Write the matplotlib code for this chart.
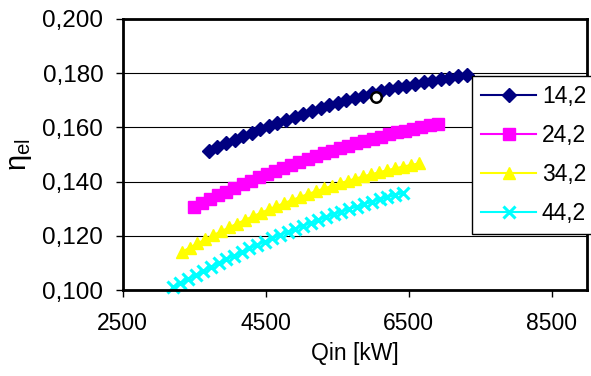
import matplotlib
matplotlib.use("Agg")
import matplotlib.pyplot as plt
from matplotlib.ticker import FuncFormatter

plt.rcParams['font.family'] = ['Liberation Sans', 'DejaVu Sans']
plt.rcParams['mathtext.fontset'] = 'custom'
plt.rcParams['mathtext.rm'] = 'Liberation Sans'

# Qin [kW] and eta_el for each series
q_142 = [3703, 3823, 3944, 4064, 4184, 4304, 4425, 4545, 4665, 4785, 4906,
         5026, 5146, 5267, 5387, 5507, 5627, 5748, 5868, 5988, 6108, 6229,
         6349, 6469, 6589, 6710, 6830, 6950, 7070, 7191, 7311]
eta_142 = [0.15130, 0.15272, 0.15410, 0.15545, 0.15677, 0.15806, 0.15931,
           0.16052, 0.16171, 0.16286, 0.16398, 0.16506, 0.16611, 0.16713,
           0.16811, 0.16906, 0.16998, 0.17086, 0.17171, 0.17253, 0.17331,
           0.17406, 0.17478, 0.17546, 0.17611, 0.17672, 0.17730, 0.17785,
           0.17837, 0.17885, 0.17930]

q_242 = [3493, 3607, 3721, 3834, 3948, 4062, 4176, 4290, 4403, 4517, 4631,
         4745, 4858, 4972, 5086, 5200, 5313, 5427, 5541, 5655, 5768, 5882,
         5996, 6110, 6224, 6337, 6451, 6565, 6679, 6792, 6906]
eta_242 = [0.13060, 0.13207, 0.13352, 0.13493, 0.13631, 0.13766, 0.13898,
           0.14027, 0.14152, 0.14275, 0.14394, 0.14511, 0.14624, 0.14734,
           0.14841, 0.14945, 0.15046, 0.15143, 0.15238, 0.15329, 0.15418,
           0.15503, 0.15585, 0.15664, 0.15740, 0.15813, 0.15882, 0.15949,
           0.16012, 0.16073, 0.16130]

q_342 = [3325, 3436, 3546, 3657, 3767, 3878, 3988, 4099, 4209, 4320, 4430,
         4541, 4651, 4762, 4872, 4983, 5093, 5204, 5314, 5425, 5535, 5646,
         5756, 5867, 5977, 6088, 6198, 6309, 6419, 6530, 6640]
eta_342 = [0.11400, 0.11561, 0.11718, 0.11871, 0.12021, 0.12167, 0.12310,
           0.12449, 0.12585, 0.12717, 0.12846, 0.12971, 0.13092, 0.13210,
           0.13324, 0.13435, 0.13542, 0.13646, 0.13746, 0.13843, 0.13936,
           0.14025, 0.14111, 0.14193, 0.14272, 0.14347, 0.14419, 0.14487,
           0.14552, 0.14613, 0.14670]

q_442 = [3200, 3307, 3414, 3522, 3629, 3736, 3843, 3950, 4058, 4165, 4272,
         4379, 4486, 4594, 4701, 4808, 4915, 5022, 5130, 5237, 5344, 5451,
         5558, 5666, 5773, 5880, 5987, 6094, 6202, 6309, 6416]
eta_442 = [0.10110, 0.10264, 0.10416, 0.10565, 0.10711, 0.10855, 0.10996,
           0.11134, 0.11270, 0.11403, 0.11533, 0.11661, 0.11786, 0.11908,
           0.12028, 0.12145, 0.12259, 0.12371, 0.12480, 0.12586, 0.12690,
           0.12791, 0.12889, 0.12985, 0.13078, 0.13168, 0.13256, 0.13341,
           0.13423, 0.13503, 0.13580]

# single highlighted point
q_mark = [6040]
eta_mark = [0.1714]

x_ticks = [2500, 4500, 6500, 8500]
y_ticks = [0.100, 0.120, 0.140, 0.160, 0.180, 0.200]

fig = plt.figure(figsize=(5.91, 3.76), dpi=100)
ax = fig.add_axes([122.7 / 591, 1 - 290 / 376, (587.4 - 122.7) / 591, (290 - 19) / 376])

ax.plot(q_142, eta_142, color='#000080', marker='D', ms=7.5, lw=1.5, label='14,2', clip_on=False)
ax.plot(q_242, eta_242, color='#FF00FF', marker='s', ms=8, lw=1.5, label='24,2', clip_on=False)
ax.plot(q_342, eta_342, color='#FFFF00', marker='^', ms=9, lw=1.5, label='34,2', clip_on=False)
ax.plot(q_442, eta_442, color='#00FFFF', marker='x', ms=8, mew=2.2, lw=1.5, label='44,2', clip_on=False)
ax.plot(q_mark, eta_mark, ls='none', marker='o', ms=7.5, mfc='white', mec='black', mew=1.8, zorder=5)

ax.set_xlim(2500, 9000)
ax.set_ylim(0.100, 0.200)
ax.set_xticks(x_ticks)
ax.set_yticks(y_ticks)
ax.yaxis.set_major_formatter(FuncFormatter(lambda v, p: f'{v:.3f}'.replace('.', ',')))
ax.tick_params(direction='out', length=5, width=1)
ax.tick_params(axis='x', labelsize=16.5, pad=11)
ax.tick_params(axis='y', labelsize=17.5, pad=9)
ax.yaxis.grid(True, color='black', lw=0.8)
ax.set_axisbelow(True)
for s in ax.spines.values():
    s.set_linewidth(2)

ax.set_xlabel('Qin [kW]', fontsize=16.5, labelpad=5)
ax.set_ylabel(r'$\mathregular{\eta_{el}}$', fontsize=21, labelpad=6)

leg = ax.legend(loc='upper left', bbox_to_anchor=(472 / 591, 1 - 76 / 376),
                bbox_transform=fig.transFigure, borderaxespad=0, fancybox=False,
                edgecolor='black', framealpha=1, fontsize=16.5, handlelength=2.4,
                handletextpad=0.25, labelspacing=0.7, borderpad=0.4)
leg.get_frame().set_linewidth(1)

fig.savefig('out.png', dpi=100)
